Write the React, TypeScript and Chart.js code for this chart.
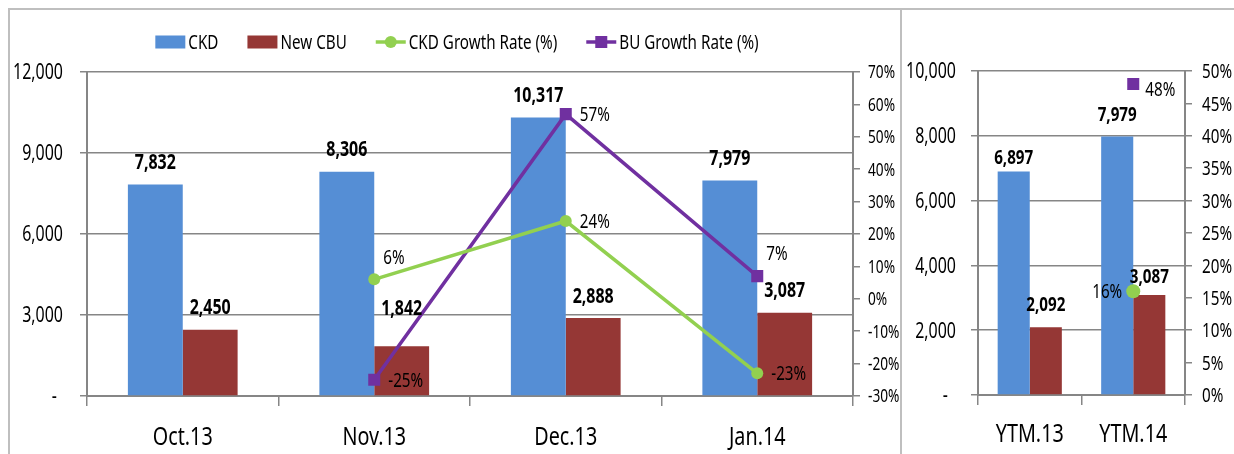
import React, { useEffect, useRef } from "react";
import { Chart, registerables } from "chart.js";

Chart.register(...registerables);

// ---------- data ----------
const MONTHS = ["Oct.13", "Nov.13", "Dec.13", "Jan.14"];
const CKD = [7832, 8306, 10317, 7979];
const NEW_CBU = [2450, 1842, 2888, 3087];
const CKD_GROWTH = [null, 6, 24, -23];
const BU_GROWTH = [null, -25, 57, 7];

const YTM = ["YTM.13", "YTM.14"];
const YTM_CKD = [6897, 7979];
const YTM_CBU = [2092, 3087];
const YTM_CKD_GROWTH = [null, 16];
const YTM_BU_GROWTH = [null, 48];

const LEFT_TICKS = [0, 3000, 6000, 9000, 12000];
const RIGHT_TICKS = [0, 2000, 4000, 6000, 8000, 10000];

// label placement keywords (not data)
const CKD_LABEL_POS = ["above", "above", "above", "above"];
const CBU_LABEL_POS = ["above", "high", "above", "above"];
const CKD_GROWTH_LABEL_POS = ["", "aboveRight", "right", "right"];
const BU_GROWTH_LABEL_POS = ["", "right", "right", "aboveRight"];
const YTM_CKD_LABEL_POS = ["low", "above"];
const YTM_CBU_LABEL_POS = ["above", "near"];
const YTM_CKD_GROWTH_LABEL_POS = ["", "left"];
const YTM_BU_GROWTH_LABEL_POS = ["", "rightLow"];

// ---------- style ----------
const FONT = '"Noto Sans", "Open Sans", sans-serif';
const CAP = 0.714; // cap-height ratio of the font
const SX = 0.76; // horizontal condensing of all text
const BLUE = "#558ED5";
const RED = "#953735";
const GREEN = "#92D050";
const PURPLE = "#7030A0";
const GRID = "#868686";
const FRAME = "#BFBFBF";

Chart.defaults.font.family = FONT;
Chart.defaults.color = "#000";

const fmtNum = (v: number) => v.toLocaleString("en-US");

function drawText(ctx: any, text: string, x: number, yc: number, size: number, bold: boolean, align: string) {
  ctx.save();
  ctx.font = `${bold ? "bold " : ""}${size}px ${FONT}`;
  ctx.textAlign = align;
  ctx.textBaseline = "alphabetic";
  ctx.fillStyle = "#000";
  ctx.translate(x, yc + (size * CAP) / 2);
  ctx.scale(SX, 1);
  ctx.fillText(text, 0, 0);
  ctx.restore();
}

function textWidth(ctx: any, text: string, size: number, bold: boolean) {
  ctx.save();
  ctx.font = `${bold ? "bold " : ""}${size}px ${FONT}`;
  const w = ctx.measureText(text).width * SX;
  ctx.restore();
  return w;
}

const labelPlugin = {
  id: "valueLabels",
  afterDatasetsDraw(chart: any, _args: any, opts: any) {
    const ctx = chart.ctx;
    chart.data.datasets.forEach((ds: any, i: number) => {
      const meta = chart.getDatasetMeta(i);
      const pos = ds.labelPos || [];
      meta.data.forEach((el: any, j: number) => {
        const v = ds.data[j];
        if (v == null) return;
        const p = pos[j];
        if (ds.labelKind === "bar") {
          const lift = p === "high" ? 39 : p === "low" ? 15 : p === "near" ? 19 : 23;
          drawText(ctx, fmtNum(v), el.x, el.y - lift, opts.barSize, true, "center");
        } else {
          const t = `${v}%`;
          const s = opts.pctSize;
          if (p === "left") drawText(ctx, t, el.x - 11, el.y, s, false, "right");
          else if (p === "aboveRight") drawText(ctx, t, el.x + 9, el.y - 23, s, false, "left");
          else if (p === "rightLow") drawText(ctx, t, el.x + 12, el.y + 5, s, false, "left");
          else drawText(ctx, t, el.x + 14, el.y, s, false, "left");
        }
      });
    });
  },
};

const axisTextPlugin = {
  id: "axisText",
  afterDraw(chart: any, _args: any, o: any) {
    const ctx = chart.ctx;
    const xs = chart.scales.x;
    xs.ticks.forEach((_t: any, i: number) => {
      drawText(ctx, String(chart.data.labels[i]), xs.getPixelForTick(i), xs.top + o.xOffset, o.xSize, false, "center");
    });
    const ys = chart.scales.y;
    ys.ticks.forEach((t: any) => {
      const yy = ys.getPixelForValue(t.value);
      if (t.value === 0) drawText(ctx, "-", o.yRight - o.zeroShift, yy, o.ySize, false, "right");
      else drawText(ctx, fmtNum(t.value), o.yRight, yy, o.ySize, false, "right");
    });
    const ps = chart.scales.y1;
    ps.ticks.forEach((t: any) => {
      drawText(ctx, `${t.value}%`, o.pLeft, ps.getPixelForValue(t.value), o.pSize, false, "left");
    });
  },
};

const legendPlugin = {
  id: "excelLegend",
  afterDraw(chart: any, _args: any, opts: any) {
    if (!opts || !opts.show) return;
    const ctx = chart.ctx;
    const items = chart.data.datasets.map((ds: any) => ({
      label: ds.label,
      type: ds.type === "line" ? "line" : "box",
      color: ds.type === "line" ? ds.borderColor : ds.backgroundColor,
      marker: ds.pointStyle,
    }));
    const symW = 30;
    const gapIn = 3;
    const gapOut = 29;
    let total = 0;
    items.forEach((it: any, k: number) => {
      total += symW + gapIn + textWidth(ctx, it.label, opts.size, false) + (k < items.length - 1 ? gapOut : 0);
    });
    let x = opts.centerX - total / 2;
    const y = opts.y;
    ctx.save();
    items.forEach((it: any) => {
      if (it.type === "box") {
        ctx.fillStyle = it.color;
        ctx.fillRect(x, y - 6.5, symW, 13);
      } else {
        ctx.strokeStyle = it.color;
        ctx.lineWidth = 3.5;
        ctx.beginPath();
        ctx.moveTo(x, y);
        ctx.lineTo(x + symW, y);
        ctx.stroke();
        ctx.fillStyle = it.color;
        if (it.marker === "circle") {
          ctx.beginPath();
          ctx.arc(x + symW / 2, y, 6, 0, Math.PI * 2);
          ctx.fill();
        } else {
          ctx.fillRect(x + symW / 2 - 6, y - 6, 12, 12);
        }
      }
      x += symW + gapIn;
      drawText(ctx, it.label, x, y, opts.size, false, "left");
      x += textWidth(ctx, it.label, opts.size, false) + gapOut;
    });
    ctx.restore();
  },
};

function makeConfig(p: any) {
  return {
    type: "bar",
    data: {
      labels: p.labels,
      datasets: [
        {
          type: "bar",
          label: "CKD",
          data: p.ckd,
          backgroundColor: BLUE,
          yAxisID: "y",
          order: 2,
          categoryPercentage: p.catPct,
          barPercentage: 1,
          labelKind: "bar",
          labelPos: p.ckdPos,
        },
        {
          type: "bar",
          label: "New CBU",
          data: p.cbu,
          backgroundColor: RED,
          yAxisID: "y",
          order: 2,
          categoryPercentage: p.catPct,
          barPercentage: 1,
          labelKind: "bar",
          labelPos: p.cbuPos,
        },
        {
          type: "line",
          label: "CKD Growth Rate (%)",
          data: p.ckdGrowth,
          borderColor: GREEN,
          backgroundColor: GREEN,
          borderWidth: 3.5,
          pointStyle: "circle",
          pointRadius: p.circleR,
          pointBorderWidth: 0,
          yAxisID: "y1",
          order: 1,
          labelKind: "pct",
          labelPos: p.ckdGrowthPos,
        },
        {
          type: "line",
          label: "BU Growth Rate (%)",
          data: p.buGrowth,
          borderColor: PURPLE,
          backgroundColor: PURPLE,
          borderWidth: 3.5,
          pointStyle: "rect",
          pointRadius: p.rectR,
          pointBorderWidth: 0,
          yAxisID: "y1",
          order: 1,
          labelKind: "pct",
          labelPos: p.buGrowthPos,
        },
      ],
    },
    options: {
      responsive: false,
      animation: false,
      events: [],
      layout: { padding: { top: p.top, left: 0, right: 0, bottom: 0 } },
      plugins: {
        legend: { display: false },
        tooltip: { enabled: false },
        valueLabels: { barSize: p.barSize, pctSize: p.pctSize },
        excelLegend: p.legend,
        axisText: p.axisText,
      },
      scales: {
        x: {
          grid: { drawOnChartArea: false, drawTicks: true, tickLength: 10, color: GRID, lineWidth: 1.5 },
          border: { display: true, color: GRID, width: 2 },
          ticks: { display: false, autoSkip: false },
          afterFit: (s: any) => {
            s.height = p.xH;
          },
        },
        y: {
          position: "left",
          min: 0,
          max: p.yMax,
          afterBuildTicks: (s: any) => {
            s.ticks = p.yTicks.map((v: number) => ({ value: v }));
          },
          ticks: { display: false },
          grid: { color: GRID, lineWidth: 1.5, tickLength: 7 },
          border: { display: true, color: GRID, width: 2 },
          afterFit: (s: any) => {
            s.width = p.yW;
          },
        },
        y1: {
          position: "right",
          min: p.pMin,
          max: p.pMax,
          ticks: { display: false, stepSize: p.pStep },
          grid: { drawOnChartArea: false, color: GRID, lineWidth: 1.5, tickLength: 7 },
          border: { display: true, color: GRID, width: 2 },
          afterFit: (s: any) => {
            s.width = p.pW;
          },
        },
      },
    },
    plugins: [labelPlugin, axisTextPlugin, legendPlugin],
  };
}

function ChartCanvas({ cfg, w, h, left, top }: any) {
  const ref = useRef<HTMLCanvasElement | null>(null);
  useEffect(() => {
    const chart = new Chart(ref.current as any, cfg as any);
    return () => chart.destroy();
  }, []);
  return (
    <canvas
      ref={ref}
      width={w}
      height={h}
      style={{ position: "absolute", left, top, width: w, height: h }}
    />
  );
}

export default function App() {
  const leftCfg = makeConfig({
    labels: MONTHS,
    ckd: CKD,
    cbu: NEW_CBU,
    ckdGrowth: CKD_GROWTH,
    buGrowth: BU_GROWTH,
    ckdPos: CKD_LABEL_POS,
    cbuPos: CBU_LABEL_POS,
    ckdGrowthPos: CKD_GROWTH_LABEL_POS,
    buGrowthPos: BU_GROWTH_LABEL_POS,
    catPct: 0.573,
    circleR: 6,
    rectR: 8.5,
    top: 62,
    xH: 58,
    yMax: 12000,
    yTicks: LEFT_TICKS,
    yW: 77,
    pMin: -30,
    pMax: 70,
    pStep: 10,
    pW: 47,
    barSize: 21,
    pctSize: 20,
    axisText: { xSize: 26, xOffset: 40, ySize: 21, yRight: 53, zeroShift: 6, pSize: 18, pLeft: 858 },
    legend: { show: true, size: 20, centerX: 447, y: 32 },
  });
  const rightCfg = makeConfig({
    labels: YTM,
    ckd: YTM_CKD,
    cbu: YTM_CBU,
    ckdGrowth: YTM_CKD_GROWTH,
    buGrowth: YTM_BU_GROWTH,
    ckdPos: YTM_CKD_LABEL_POS,
    cbuPos: YTM_CBU_LABEL_POS,
    ckdGrowthPos: YTM_CKD_GROWTH_LABEL_POS,
    buGrowthPos: YTM_BU_GROWTH_LABEL_POS,
    catPct: 0.62,
    circleR: 7,
    rectR: 8.5,
    top: 61,
    xH: 59,
    yMax: 10000,
    yTicks: RIGHT_TICKS,
    yW: 76,
    pMin: 0,
    pMax: 50,
    pStep: 5,
    pW: 49,
    barSize: 20,
    pctSize: 20,
    axisText: { xSize: 26, xOffset: 38, ySize: 21, yRight: 54, zeroShift: 8, pSize: 20, pLeft: 300 },
    legend: { show: false },
  });
  return (
    <div style={{ position: "fixed", left: 0, top: 0, width: 1234, height: 454, overflow: "hidden", background: "#fff" }}>
      <div
        style={{
          position: "absolute",
          left: 8,
          top: 8,
          width: 890,
          height: 470,
          border: `2px solid ${FRAME}`,
          borderBottom: "none",
        }}
      />
      <div
        style={{
          position: "absolute",
          left: 900,
          top: 8,
          width: 400,
          height: 470,
          border: `2px solid ${FRAME}`,
          borderBottom: "none",
        }}
      />
      <ChartCanvas cfg={leftCfg} w={890} h={444} left={10} top={10} />
      <ChartCanvas cfg={rightCfg} w={332} h={444} left={902} top={10} />
    </div>
  );
}
